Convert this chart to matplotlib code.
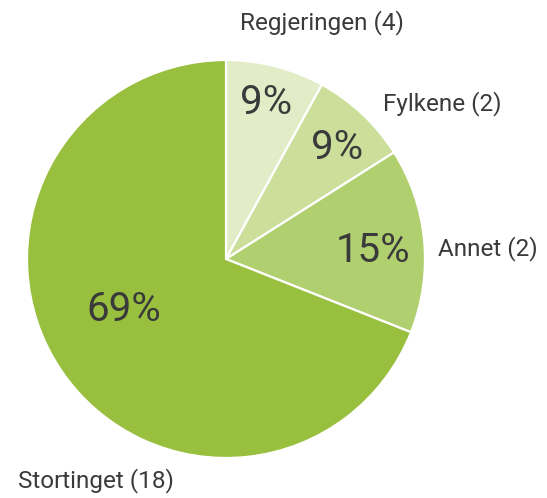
import matplotlib
matplotlib.use("Agg")
import matplotlib.pyplot as plt
import numpy as np

categories = ["Regjeringen (4)", "Fylkene (2)", "Annet (2)", "Stortinget (18)"]
shares = [8.0, 8.0, 15.0, 69.0]
pct_labels = ["9%", "9%", "15%", "69%"]
colors = ["#e2edc8", "#cbdf9b", "#b0d070", "#98bf3d"]

W, H = 547, 498
fig = plt.figure(figsize=(W / 100, H / 100), dpi=100)
cx, cy, r = 226, 259, 199
ax = fig.add_axes([(cx - r) / W, (H - cy - r) / H, 2 * r / W, 2 * r / H])

wedges, _ = ax.pie(shares, colors=colors, startangle=90, counterclock=False,
                   radius=1.0, wedgeprops=dict(edgecolor="white", linewidth=1.6))
ax.set_xlim(-1, 1)
ax.set_ylim(-1, 1)
ax.set_aspect("equal")
ax.axis("off")

font = ["Roboto", "DejaVu Sans"]
tcol = "#3a3a3a"
pct_r = [0.81, 0.79, 0.74, 0.57]
pct_da = [0, -1.5, -2, -8]
for w, lab, rr, da in zip(wedges, pct_labels, pct_r, pct_da):
    th = np.deg2rad((w.theta1 + w.theta2) / 2 + da)
    ax.text(rr * np.cos(th), rr * np.sin(th), lab, ha="center", va="center",
            fontsize=29, color=tcol, family=font, fontweight="normal")

lab_pos = [(0.48, 1.19, "center"), (0.79, 0.78, "left"), (1.065, 0.055, "left"),
           (-1.045, -1.115, "left")]
for lab, (x, y, ha) in zip(categories, lab_pos):
    ax.text(x, y, lab, ha=ha, va="center", fontsize=17.5, color=tcol, family=font,
            fontweight="normal", clip_on=False)

fig.savefig("out.png", dpi=100)
